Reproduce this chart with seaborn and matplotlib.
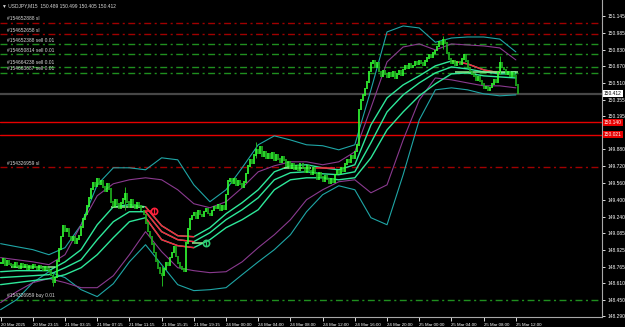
import numpy as np
import pandas as pd
import matplotlib
matplotlib.use("Agg")
import matplotlib.pyplot as plt
import seaborn as sns

# ---------------- data ----------------
header_text = "USDJPY,M15  150.489 150.499 150.405 150.412"

closes = [
    148.80, 148.84, 148.78, 148.82, 148.79,
    148.78, 148.76, 148.80, 148.77, 148.75, 148.79, 148.76, 148.78, 148.74, 148.77,
    148.75, 148.78, 148.76, 148.74, 148.77, 148.75, 148.73, 148.76, 148.74, 148.72,
    148.68, 148.62, 148.66,
    148.82, 148.93,
    149.05, 149.15, 149.10,
    149.12, 149.05,
    149.02, 149.05, 148.99, 149.03, 149.06,
    149.14, 149.22, 149.26,
    149.34, 149.42,
    149.50, 149.56, 149.53, 149.60, 149.55,
    149.58, 149.52, 149.48, 149.55, 149.50,
    149.38, 149.34, 149.40, 149.36, 149.32, 149.37, 149.41, 149.46,
    149.38, 149.33, 149.40, 149.35, 149.32, 149.37, 149.34,
    149.30, 149.26,
    149.18, 149.10, 149.05,
    148.98, 148.90, 148.82, 148.75, 148.70,
    148.68,
    148.74, 148.80, 148.78, 148.85,
    148.90, 148.95, 148.86,
    148.80, 148.76, 148.74, 148.72,
    148.99,
    149.12, 149.22,
    149.25, 149.28, 149.23, 149.30, 149.26, 149.24, 149.29, 149.31, 149.27, 149.25, 149.30, 149.33,
    149.32, 149.35, 149.30, 149.34, 149.31,
    149.45, 149.58, 149.60,
    149.56, 149.60, 149.54, 149.58, 149.55, 149.52, 149.57,
    149.65, 149.72, 149.78, 149.75, 149.83,
    149.88, 149.84, 149.90, 149.82, 149.86, 149.80, 149.84,
    149.80, 149.85, 149.78, 149.83, 149.79, 149.76, 149.81,
    149.78, 149.72, 149.76, 149.70, 149.74, 149.69,
    149.72, 149.68, 149.74, 149.70, 149.66, 149.72, 149.68, 149.64, 149.70,
    149.65, 149.60, 149.66, 149.62, 149.58, 149.63, 149.60,
    149.56, 149.60, 149.57,
    149.64, 149.68, 149.65, 149.70, 149.67,
    149.74, 149.78, 149.76, 149.82, 149.80,
    149.86, 149.92,
    150.26,
    150.35,
    150.40, 150.46, 150.52,
    150.62, 150.70,
    150.72, 150.66, 150.70,
    150.62, 150.58, 150.63, 150.60,
    150.57, 150.61, 150.58, 150.62, 150.56, 150.60, 150.63, 150.59,
    150.64, 150.68, 150.65, 150.69, 150.66,
    150.68, 150.71, 150.69, 150.72, 150.70, 150.68, 150.72,
    150.75, 150.78, 150.76, 150.80, 150.82,
    150.86, 150.90, 150.88, 150.92, 150.89,
    150.80, 150.74,
    150.70, 150.72, 150.68, 150.71, 150.69,
    150.74, 150.78, 150.72,
    150.66, 150.62, 150.60,
    150.58, 150.54, 150.57, 150.53,
    150.50, 150.46, 150.48, 150.44, 150.47,
    150.50, 150.54, 150.52,
    150.62, 150.70, 150.66,
    150.64, 150.60, 150.62, 150.58, 150.61,
    150.58, 150.49,
    150.412,
]

spike_bars = [26, 62, 80, 127, 220, 248]
spike_tops = [148.70, 149.52, 148.78, 149.95, 150.96, 150.77]
spike_bottoms = [148.58, 149.30, 148.58, 149.80, 150.84, 150.60]

# indicator values sampled every 8 bars
ind_bars = list(range(0, 257, 8))
bb_outer_upper = [148.983, 148.954, 148.926, 148.878, 148.945, 149.163, 149.543, 149.705, 149.705,
                  149.686, 149.800, 149.781, 149.543, 149.382, 149.496, 149.705, 149.924, 150.009,
                  149.970, 149.924, 149.915, 149.876, 149.924, 150.447, 150.998, 151.055, 151.036,
                  150.900, 150.940, 150.950, 150.950, 150.930, 150.808]
bb_inner_upper = [148.850, 148.830, 148.810, 148.783, 148.878, 149.163, 149.439, 149.553, 149.591,
                  149.610, 149.591, 149.496, 149.363, 149.325, 149.382, 149.515, 149.667, 149.724,
                  149.762, 149.762, 149.734, 149.762, 149.857, 150.276, 150.713, 150.855, 150.884,
                  150.827, 150.884, 150.874, 150.865, 150.846, 150.732]
bb_inner_lower = [148.422, 148.526, 148.612, 148.650, 148.612, 148.564, 148.564, 148.678, 148.878,
                  149.097, 148.907, 148.754, 148.726, 148.707, 148.716, 148.810, 148.945, 149.068,
                  149.211, 149.401, 149.496, 149.572, 149.591, 149.467, 149.543, 149.970, 150.350,
                  150.560, 150.542, 150.513, 150.485, 150.485, 150.466]
bb_outer_lower = [148.355, 148.450, 148.612, 148.716, 148.660, 148.545, 148.479, 148.602, 148.810,
                  148.973, 148.783, 148.593, 148.536, 148.545, 148.564, 148.688, 148.810, 148.926,
                  149.068, 149.287, 149.449, 149.534, 149.496, 149.230, 149.163, 149.639, 150.160,
                  150.447, 150.466, 150.447, 150.409, 150.390, 150.399]
ma_fast = [148.716, 148.726, 148.726, 148.726, 148.810, 148.926, 149.163, 149.334, 149.354,
           149.334, 149.154, 149.059, 149.049, 149.135, 149.268, 149.373, 149.496, 149.667,
           149.724, 149.734, 149.705, 149.686, 149.734, 150.114, 150.370, 150.494, 150.580,
           150.675, 150.722, 150.694, 150.637, 150.608, 150.618]
ma_mid = [148.660, 148.669, 148.678, 148.688, 148.754, 148.830, 149.021, 149.192, 149.287,
          149.287, 149.097, 149.021, 149.002, 149.087, 149.211, 149.306, 149.420, 149.591,
          149.658, 149.667, 149.648, 149.639, 149.667, 149.943, 150.237, 150.399, 150.513,
          150.608, 150.665, 150.646, 150.618, 150.599, 150.599]
ma_slow = [148.593, 148.612, 148.631, 148.650, 148.688, 148.754, 148.878, 149.040, 149.192,
           149.230, 149.021, 148.964, 148.945, 149.021, 149.135, 149.211, 149.306, 149.496,
           149.591, 149.610, 149.610, 149.591, 149.610, 149.800, 150.066, 150.237, 150.390,
           150.504, 150.599, 150.608, 150.580, 150.570, 150.560]

# flat trade segments (start bar, end bar, price, kind)
seg_start = [5, 55, 71, 95, 141, 155, 226]
seg_end = [27, 71, 75, 101, 154, 166, 257]
seg_price = [148.764, 149.334, 149.290, 148.993, 149.705, 149.705, 150.618]
seg_kind = ["up", "up", "down", "up", "up", "down", "up"]
mark_bars = [76, 102]
mark_prices = [149.290, 148.993]
mark_kind = ["down", "up"]

order_prices = [151.086, 150.979, 150.879, 150.789, 150.668, 150.611, 149.714, 148.450]
order_labels = ["#154652888 sl", "#154652658 sl", "#154652388 sell 0.01", "#154650814 sell 0.01",
                "#154664238 sell 0.01", "#154663687 sell 0.01", "#154326959 sl", "#154326959 buy 0.01"]
order_kinds = ["sl", "sl", "trade", "trade", "trade", "trade", "sl", "trade"]

bid_price = 150.412
alert_prices = [150.140, 150.021]

ytick_vals = [151.145, 150.985, 150.830, 150.670, 150.510, 150.355, 150.195, 150.035, 149.880,
              149.720, 149.560, 149.400, 149.240, 149.085, 148.925, 148.765, 148.610, 148.450, 148.290]
hidden_ytick = 150.035   # covered by the red price label in the reference
xtick_bars = list(range(0, 257, 16))
xtick_labels = ["20 Mar 2025", "20 Mar 23:15", "21 Mar 03:15", "21 Mar 07:15", "21 Mar 11:15",
                "21 Mar 15:15", "21 Mar 19:15", "24 Mar 00:00", "24 Mar 04:00", "24 Mar 08:00",
                "24 Mar 12:00", "24 Mar 16:00", "24 Mar 20:00", "25 Mar 00:00", "25 Mar 04:00",
                "25 Mar 08:00", "25 Mar 12:00"]

# ---------------- styling ----------------
BG = "black"
BULL = "#33ff33"
BEAR = "#1fb51f"
CYAN = "#1fa6a6"
PURPLE = "#8a3a8f"
MA_COL = "#2ee89a"
RED = "#ff1f3a"
FLAT_UP = "#8ff08f"
SL_COL = "#a00000"
TR_COL = "#1f8f1f"
TXT = "#d8d8d8"
FS_AX = 3.5
FS_X = 3.15
FS_LBL = 3.5

sns.set_theme(style="dark", rc={"axes.facecolor": BG, "figure.facecolor": BG})
plt.rcParams["font.family"] = ["Liberation Sans", "DejaVu Sans"]

fig = plt.figure(figsize=(6.25, 3.27), dpi=100)
fig.patch.set_facecolor(BG)
ax = fig.add_axes([0, 10 / 327, 602 / 625, 317 / 327])
ax.set_facecolor(BG)
ax.grid(False)

# order lines
for p, lab, k in zip(order_prices, order_labels, order_kinds):
    col = SL_COL if k == "sl" else TR_COL
    ax.axhline(p, color=col, lw=1.0, ls=(0, (5, 2.5, 1.5, 2.5)), zorder=1)
    ax.text(3, p + 0.012, lab, color=TXT, fontsize=FS_LBL, va="bottom", ha="left", zorder=6)

ax.axhline(bid_price, color="#474747", lw=1.6, zorder=1)
for p in alert_prices:
    ax.axhline(p, color="#e60000", lw=1.0, zorder=1)

# bands
ind = pd.DataFrame({"bar": ind_bars, "ou": bb_outer_upper, "iu": bb_inner_upper,
                    "il": bb_inner_lower, "ol": bb_outer_lower,
                    "m1": ma_fast, "m2": ma_mid, "m3": ma_slow})
for col, c in [("ou", CYAN), ("ol", CYAN), ("iu", PURPLE), ("il", PURPLE)]:
    sns.lineplot(data=ind, x="bar", y=col, color=c, lw=0.8, ax=ax, zorder=2)

# moving averages with red falling segments
red_ranges = {"m1": [(9, 12), (28, 31)], "m2": [(9, 12)], "m3": [(9, 12)]}
for col in ["m1", "m2", "m3"]:
    sns.lineplot(data=ind, x="bar", y=col, color=MA_COL, lw=1.0, ax=ax, zorder=3)
    for a, b in red_ranges[col]:
        sub = ind.iloc[a:b + 1]
        sns.lineplot(data=sub, x="bar", y=col, color=RED, lw=1.0, ax=ax, zorder=3.1)

# flat trade segments
for s, e, p, k in zip(seg_start, seg_end, seg_price, seg_kind):
    ax.hlines(p, s, e, color=FLAT_UP if k == "up" else RED, lw=1.1, zorder=3.2)
for b, p, k in zip(mark_bars, mark_prices, mark_kind):
    ax.plot([b], [p], marker="o", ms=4.5, mfc="none", mew=1.2,
            mec=RED if k == "down" else "#2ecc71", zorder=5)
    ax.plot([b], [p], marker="|", ms=4, mew=0.9,
            color=RED if k == "down" else "#2ecc71", zorder=5)

# candles
c = np.array(closes)
bars = np.arange(len(c))
opens = np.r_[c[0], c[:-1]]
lo = np.minimum(opens, c) - 0.008
hi = np.maximum(opens, c) + 0.008
up = c >= opens
ax.vlines(np.array(spike_bars), spike_bottoms, spike_tops, color=BEAR, lw=0.7, zorder=4)
ax.vlines(bars[up], lo[up], hi[up], color=BULL, lw=1.2, zorder=4.1)
ax.vlines(bars[~up], lo[~up], hi[~up], color=BEAR, lw=1.2, zorder=4.1)

# axes
ax.set_xlim(-0.3, 298.8)
ax.set_ylim(148.285, 151.302)
ax.set_xlabel("")
ax.set_ylabel("")
ax.yaxis.tick_right()
ax.set_yticks(ytick_vals)
ax.set_yticklabels([f"{v:.3f}" for v in ytick_vals])
for v, lbl in zip(ytick_vals, ax.get_yticklabels()):
    if abs(v - hidden_ytick) < 1e-9:
        lbl.set_visible(False)
ax.set_xticks(xtick_bars)
ax.set_xticklabels(xtick_labels)
for lbl in ax.get_xticklabels():
    lbl.set_ha("left")
ax.tick_params(axis="y", colors="white", labelsize=FS_AX, length=2.5, width=0.6, pad=1.5,
               labelcolor="white", right=True, left=False)
ax.tick_params(axis="x", colors="white", labelsize=FS_X, length=3, width=0.6, pad=1.5,
               labelcolor="white", bottom=True)
for sp in ["top", "left"]:
    ax.spines[sp].set_visible(False)
for sp in ["right", "bottom"]:
    ax.spines[sp].set_visible(True)
    ax.spines[sp].set_color("#a8a8a8")
    ax.spines[sp].set_linewidth(0.8)

ytr = ax.get_yaxis_transform()
ax.text(1.003, bid_price, f"{bid_price:.3f}", transform=ytr, fontsize=FS_AX, color="black",
        va="center", ha="left", clip_on=False, zorder=10,
        bbox=dict(boxstyle="square,pad=0.2", fc="white", ec="none"))
for p in alert_prices:
    ax.text(1.003, p, f"{p:.3f}", transform=ytr, fontsize=FS_AX, color="white",
            va="center", ha="left", clip_on=False, zorder=10,
            bbox=dict(boxstyle="square,pad=0.2", fc="#e60000", ec="none"))

ax.text(0.004, 0.99, "\u25bc " + header_text, transform=ax.transAxes, fontsize=FS_LBL,
        color=TXT, va="top", ha="left", zorder=10)

fig.savefig("out.png", dpi=100, facecolor=BG)
